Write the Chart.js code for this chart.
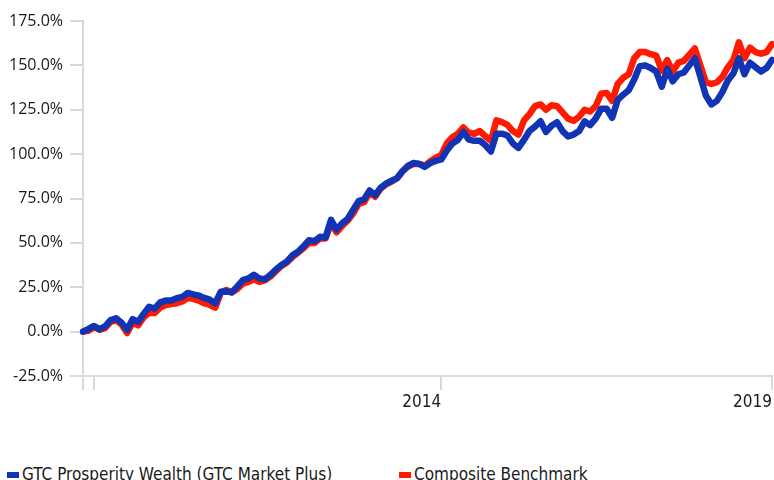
<!DOCTYPE html>
<html><head><meta charset="utf-8">
<script src="https://cdn.jsdelivr.net/npm/chart.js@4/dist/chart.umd.min.js"></script>
<style>
html,body{margin:0;padding:0;background:#fff;overflow:hidden;width:774px;height:480px;}
#wrap{position:absolute;left:0;top:0;width:774px;height:420px;}
#legend{position:absolute;left:0;top:464px;width:774px;height:30px;font-family:"DejaVu Sans Condensed","DejaVu Sans",sans-serif;font-stretch:condensed;font-size:17px;color:#1a1a1a;white-space:nowrap;}
.item{position:absolute;top:0;line-height:20px;}
.box{display:inline-block;width:12px;height:6px;margin-right:3px;vertical-align:middle;}
</style></head><body>
<div id="wrap"><canvas id="c"></canvas></div>
<div id="legend"></div>
<script>
// monthly categories, Aug 2008 .. Jan 2019
const categories = [];
for (let y = 2008, m = 8; categories.length < 126; m++) {
  if (m > 12) { m = 1; y++; }
  categories.push(y + '-' + String(m).padStart(2, '0'));
}
const tickMarks = ['2008-08', '2008-10', '2014-01', '2019-01'];
const yearLabels = {'2014-01': '2014', '2019-01': '2019'};
const seriesNames = ['GTC Prosperity Wealth (GTC Market Plus)', 'Composite Benchmark'];

const gtc = [0,1.5,3.2,1.4,3,6.5,7.5,5,1,7,
5.5,10,14,13,16.5,17.5,17.5,18.8,19.5,21.8,
21,20.3,19,18,16,22.5,22.6,22.2,25.5,29,
30,32,30,29.5,32,35,37.5,39.5,43,45,
48,51.5,51,53.4,53,63,57.5,61,63.5,68.5,
73.5,74.6,79.5,77,81,83.5,85,86.5,90.5,93.5,
95,94.5,92.8,95,96.2,97,102,106,108,112.5,
108.2,107.5,107.5,105,101.5,111.5,111.5,110.5,106,103.5,
108,113,115.5,118.5,112.5,116,118,113,110,111,
113,118.5,116.3,120,125.5,125.6,120.5,130.5,133.5,136,
142,149.5,150,148.5,146.5,138,148,141,145,146,
150,154,143.7,133,128,130,135,141.5,145.5,154,
145,151.5,149,146.5,148.5,153];

const benchmark = [0,0.5,2.5,1,2,5.5,6.5,4,-0.8,5,
3.5,8,10.6,10.5,13.5,15,15.5,16,17,19,
18.5,17.5,16,15,13.5,22,23.5,22,24,27,
28,29.5,28,29,31,34,37,39,42,44.5,
47,50,50,52.5,52.5,61,56,59.5,62.5,66.5,
72,73,78.5,76,80.5,83,84.5,86.5,90.5,93,
94.5,94.5,93.5,96,98,99.5,106,109.5,111.5,115,
112,111.5,113,110,107.5,119,118,116.5,113,111,
119,122.5,127,128,125,127.5,127,123.5,120,118.8,
121,125,124,127,134,134.5,130,139.5,143,145,
154,157.5,157.5,156.3,155.5,147,153,146.5,151.5,152.5,
156,159.5,150,140.5,139.5,140.5,143.5,149,153,163,
154,160,157.5,156.6,157.5,162];

const BLUE = '#1034b4';
const RED = '#ff1a00';
const AXIS = '#d9d9d9';

const chart = new Chart(document.getElementById('c'), {
  type: 'line',
  data: {
    labels: categories,
    datasets: [
      {label: seriesNames[0], data: gtc, borderColor: BLUE, backgroundColor: BLUE, borderWidth: 6.5, pointRadius: 0, tension: 0, borderJoinStyle: 'round', borderCapStyle: 'round'},
      {label: seriesNames[1], data: benchmark, borderColor: RED, backgroundColor: RED, borderWidth: 6.5, pointRadius: 0, tension: 0, borderJoinStyle: 'round', borderCapStyle: 'round'}
    ]
  },
  options: {
    responsive: true,
    maintainAspectRatio: false,
    animation: false,
    devicePixelRatio: 1,
    layout: {padding: {left: 8, top: 21, right: 0, bottom: 0}},
    plugins: {legend: {display: false}, tooltip: {enabled: false}},
    scales: {
      x: {
        offset: false,
        ticks: {
          autoSkip: false, maxRotation: 0, minRotation: 0, align: 'end', padding: 2,
          font: {family: '"DejaVu Sans Condensed", "DejaVu Sans"', size: 17}, color: '#1a1a1a',
          callback: function(v, i) {
            const c = categories[i];
            if (c in yearLabels) return yearLabels[c];
            if (tickMarks.includes(c)) return '';
            return null;
          }
        },
        grid: {drawOnChartArea: false, drawTicks: true, tickLength: 14, color: AXIS, lineWidth: 2},
        border: {color: AXIS, width: 2},
        afterFit: function(s) { s.height = 44; }
      },
      y: {
        min: -25, max: 175,
        ticks: {stepSize: 25, padding: 7, color: '#1a1a1a', font: {family: '"Open Sans"', size: 16},
          callback: function(v) { return v.toFixed(1) + '%'; }},
        grid: {drawOnChartArea: false, drawTicks: true, tickLength: 13, color: AXIS, lineWidth: 2},
        border: {color: AXIS, width: 2},
        afterFit: function(s) { s.width = 75; }
      }
    }
  }
});

// legend
const lg = document.getElementById('legend');
const legendPos = [7, 399];
chart.data.datasets.forEach(function(ds, i) {
  const it = document.createElement('div');
  it.className = 'item';
  it.style.left = legendPos[i] + 'px';
  const b = document.createElement('span');
  b.className = 'box';
  b.style.background = ds.borderColor;
  it.appendChild(b);
  it.appendChild(document.createTextNode(ds.label));
  lg.appendChild(it);
});
</script>
</body></html>
